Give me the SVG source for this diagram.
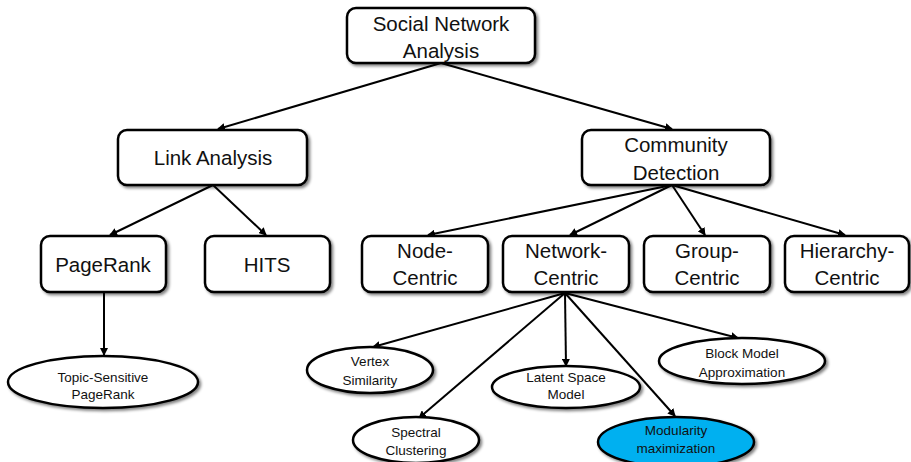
<svg xmlns="http://www.w3.org/2000/svg" width="911" height="462" viewBox="0 0 911 462">
<style>
.box{fill:#fff;stroke:#000;stroke-width:2.5;filter:url(#sh)}
.ell{fill:#fff;stroke:#000;stroke-width:2.5;filter:url(#sh)}
.big{font-family:"Liberation Sans",Arial,sans-serif;font-size:20.5px;fill:#111;text-anchor:middle}
.sm{font-family:"Liberation Sans",Arial,sans-serif;font-size:13.5px;fill:#111;text-anchor:middle}
.ln{stroke:#000;stroke-width:2;fill:none;marker-end:url(#ah)}
</style>
<defs>
<filter id="sh" x="-20%" y="-20%" width="140%" height="150%">
<feGaussianBlur in="SourceAlpha" stdDeviation="1.5"/>
<feOffset dx="2" dy="2" result="o"/>
<feComponentTransfer><feFuncA type="linear" slope="0.5"/></feComponentTransfer>
<feMerge><feMergeNode/><feMergeNode in="SourceGraphic"/></feMerge>
</filter>
<marker id="ah" markerWidth="8" markerHeight="8" refX="7" refY="4" orient="auto" markerUnits="userSpaceOnUse">
<path d="M0,0 L8,4 L0,8 z" fill="#000"/>
</marker>
</defs>
<g id="connectors">
<line class="ln" x1="441" y1="63" x2="218" y2="129"/>
<line class="ln" x1="441" y1="63" x2="672" y2="129"/>
<line class="ln" x1="213" y1="185" x2="110" y2="235"/>
<line class="ln" x1="213" y1="185" x2="266" y2="235"/>
<line class="ln" x1="672" y1="185" x2="428" y2="235"/>
<line class="ln" x1="672" y1="185" x2="570" y2="235"/>
<line class="ln" x1="672" y1="185" x2="705" y2="235"/>
<line class="ln" x1="672" y1="185" x2="845" y2="235"/>
<line class="ln" x1="104" y1="292" x2="104" y2="355"/>
<line class="ln" x1="565" y1="293" x2="373" y2="347"/>
<line class="ln" x1="565" y1="293" x2="419" y2="418"/>
<line class="ln" x1="565" y1="293" x2="566" y2="366"/>
<line class="ln" x1="565" y1="293" x2="675" y2="416"/>
<line class="ln" x1="565" y1="293" x2="738" y2="338"/>
</g>
<g id="sna"><rect class="box" x="347" y="8" width="188" height="55" rx="9"/><text class="big" x="441" y="31">Social Network</text><text class="big" x="441" y="58">Analysis</text></g>
<g id="link"><rect class="box" x="118" y="130" width="189" height="55" rx="9"/><text class="big" x="213" y="165">Link Analysis</text></g>
<g id="community"><rect class="box" x="582" y="130" width="188" height="55" rx="9"/><text class="big" x="676" y="152">Community</text><text class="big" x="676" y="180">Detection</text></g>
<g id="pagerank"><rect class="box" x="41" y="236" width="125" height="56" rx="9"/><text class="big" x="103" y="272">PageRank</text></g>
<g id="hits"><rect class="box" x="205" y="236" width="125" height="56" rx="9"/><text class="big" x="267" y="272">HITS</text></g>
<g id="node"><rect class="box" x="362" y="236" width="126" height="56" rx="9"/><text class="big" x="425" y="258">Node-</text><text class="big" x="425" y="285">Centric</text></g>
<g id="network"><rect class="box" x="503" y="236" width="126" height="56" rx="9"/><text class="big" x="566" y="258">Network-</text><text class="big" x="566" y="285">Centric</text></g>
<g id="group"><rect class="box" x="644" y="236" width="126" height="56" rx="9"/><text class="big" x="707" y="258">Group-</text><text class="big" x="707" y="285">Centric</text></g>
<g id="hierarchy"><rect class="box" x="785" y="236" width="124" height="56" rx="9"/><text class="big" x="847" y="258">Hierarchy-</text><text class="big" x="847" y="285">Centric</text></g>
<g id="topic"><ellipse class="ell" cx="103" cy="382" rx="95" ry="26"/><text class="sm" x="103" y="382">Topic-Sensitive</text><text class="sm" x="103" y="399">PageRank</text></g>
<g id="vertex"><ellipse class="ell" cx="370" cy="370" rx="63" ry="23"/><text class="sm" x="370" y="366">Vertex</text><text class="sm" x="370" y="385">Similarity</text></g>
<g id="spectral"><ellipse class="ell" cx="416" cy="440" rx="63" ry="23"/><text class="sm" x="416" y="437">Spectral</text><text class="sm" x="416" y="455">Clustering</text></g>
<g id="latent"><ellipse class="ell" cx="566" cy="387" rx="74" ry="21"/><text class="sm" x="566" y="382">Latent Space</text><text class="sm" x="566" y="399">Model</text></g>
<g id="block"><ellipse class="ell" cx="742" cy="361" rx="83" ry="23"/><text class="sm" x="742" y="358">Block Model</text><text class="sm" x="742" y="377">Approximation</text></g>
<g id="modularity"><ellipse class="ell" cx="676" cy="442" rx="78" ry="25" style="fill:#00B0F0"/><text class="sm" x="676" y="435">Modularity</text><text class="sm" x="676" y="453">maximization</text></g>
</svg>
